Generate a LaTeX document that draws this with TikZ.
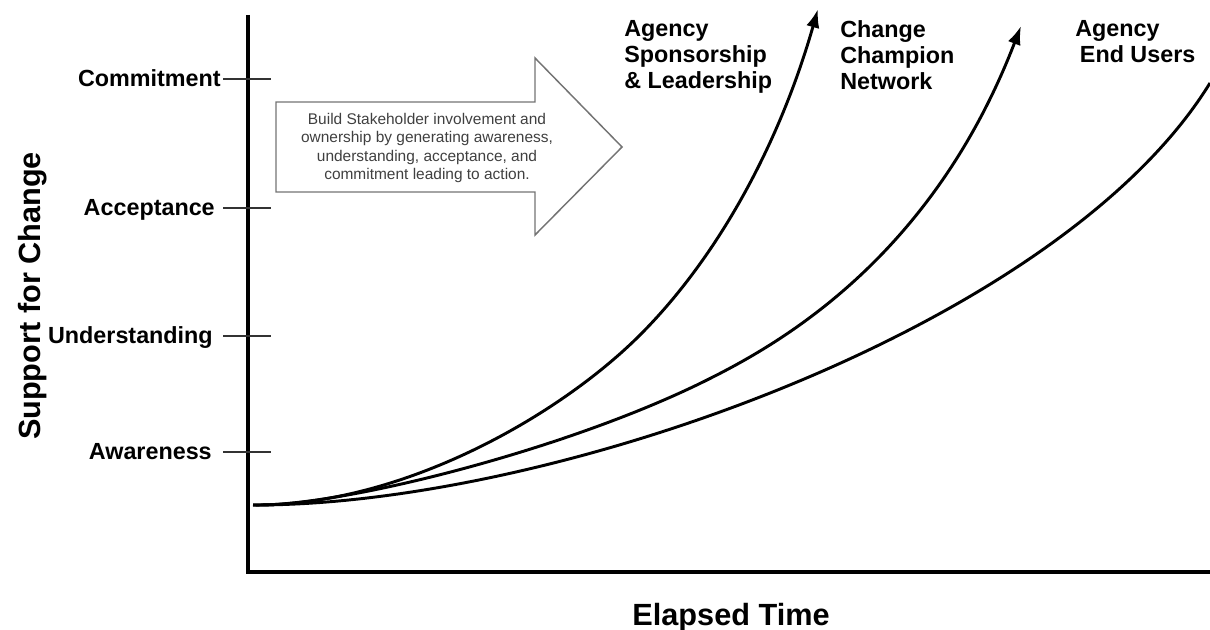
\documentclass[tikz,border=0pt]{standalone}
\usepackage{fontspec}
\setmainfont{Liberation Sans}
\usetikzlibrary{arrows.meta}
\tikzset{>={Latex[length=14pt,width=10pt]}}
\tikzset{
  lbl/.style={font=\fontsize{17.5}{19.5}\selectfont\bfseries, inner sep=0pt},
  axtitle/.style={font=\fontsize{23}{27}\selectfont\bfseries, inner sep=0pt},
  axisline/.style={line width=3pt},
  levtick/.style={line width=1.1pt, black!80},
  trend/.style={line width=2.2pt},
  bigarrow/.style={draw=black!55, line width=1.1pt, line join=miter},
  msg/.style={font=\fontsize{11.6}{13.7}\selectfont, text=black!75, align=center, inner sep=0pt}
}

\begin{document}
\begin{tikzpicture}[x=0.75pt, y=-0.75pt]
\useasboundingbox (0,0) rectangle (1210,630);
\draw[axisline] (248,15) -- (248,572) -- (1210,572);
\foreach \y/\r/\lev/\nm in {79/221/Commitment/commit, 208/215/Acceptance/accept,
    336/213/Understanding/under, 452/212/Awareness/aware}
{
  \node[lbl, anchor=base east] (\nm) at (\r,\y+8) {\lev};
  \draw[levtick] (223,\y) -- (271,\y);
}
\node[axtitle, rotate=90, anchor=base] (ylabel) at (40,296) {Support for Change};
\node[axtitle, anchor=base] (xlabel) at (731,625) {Elapsed Time};

\draw[bigarrow] (276,102) -- (535,102) -- (535,58) -- (622,147)
  -- (535,235) -- (535,192) -- (276,192) -- cycle;
\node[msg] (msgtext) at (427,148) {Build Stakeholder involvement and\\
  ownership by generating awareness,\\ understanding, acceptance, and\\
  commitment leading to action.};

\coordinate (start) at (253,505);
\coordinate (sponsormid) at (640,335);
\coordinate (sponsortip) at (818,9);
\coordinate (championmid) at (707,380);
\coordinate (championtip) at (1021,26);
\coordinate (usersend) at (1210,83);
\draw[trend, ->] (start) .. controls (403,506) and (560,415) .. (sponsormid)
  .. controls (715,260) and (778,149) .. (sponsortip);
\draw[trend, ->] (start) .. controls (340,507) and (567,450) .. (championmid)
  .. controls (777,345) and (931,260) .. (championtip);
\draw[trend] (start) .. controls (553,506) and (1060,327) .. (usersend);

\node[lbl, align=left, anchor=north west] (sponsor) at (624,20)
  {Agency\\Sponsorship\\\& Leadership};
\node[lbl, align=left, anchor=north west] (champion) at (840,20)
  {Change\\Champion\\Network};
\node[lbl, align=left, anchor=north west] (endusers) at (1075,20)
  {Agency\\\hspace{3.5pt}End Users};
\end{tikzpicture}
\end{document}
